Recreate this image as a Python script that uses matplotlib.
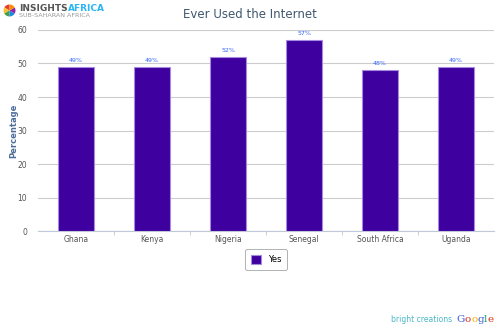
import matplotlib.pyplot as plt
import numpy as np

countries = ['Ghana', 'Kenya', 'Nigeria', 'Senegal', 'South Africa', 'Uganda']
yes_pct = [49, 49, 52, 57, 48, 49]
bar_labels = ['49%', '49%', '52%', '57%', '48%', '49%']

bar_color = '#3f00a0'
edge_color = '#a58be0'

fig = plt.figure(figsize=(5, 3.33), dpi=100)
ax = fig.add_axes([0.076, 0.306, 0.912, 0.604])
renderer = fig.canvas.get_renderer()

x = np.arange(len(countries))
bars = ax.bar(x, yes_pct, width=0.47, color=bar_color, edgecolor=edge_color,
              linewidth=0.8, label='Yes', zorder=3)
for rect, lab in zip(bars, bar_labels):
    ax.text(rect.get_x() + rect.get_width() / 2, rect.get_height() + 1.2, lab,
            ha='center', va='bottom', fontsize=4.5, color='#3366ff')

ax.set_xlim(-0.5, len(countries) - 0.5)
ax.set_ylim(0, 60)
ax.set_yticks(np.arange(0, 61, 10))
ax.yaxis.grid(True, color='#cccccc', linewidth=0.8, zorder=0)
ax.tick_params(axis='y', length=0, labelsize=5.5, labelcolor='#555555', pad=8)
ax.set_xticks(x)
ax.set_xticklabels(countries)
ax.tick_params(axis='x', length=0, labelsize=5.5, labelcolor='#555555', pad=3)
# small separators between categories
ax.set_xticks(np.arange(0.5, len(countries) - 0.5), minor=True)
ax.tick_params(axis='x', which='minor', length=3, color='#c0c8d8')
for side in ['top', 'right', 'left']:
    ax.spines[side].set_visible(False)
ax.spines['bottom'].set_color('#c0c8d8')

fig.text(0.027, 0.608, 'Percentage', rotation=90, ha='center', va='center',
         fontsize=6, fontweight='bold', color='#4d6d9a')
fig.text(0.5, 0.955, 'Ever Used the Internet', ha='center', va='center',
         fontsize=8.5, color='#3e576f')

leg = ax.legend(loc='upper center', bbox_to_anchor=(0.5, -0.07), fontsize=6,
                frameon=True, fancybox=True, edgecolor='#909090', handlelength=1.2,
                handleheight=1.2, borderpad=0.7)
leg.get_frame().set_linewidth(0.6)


def colored_word(x0, y0, parts, **kw):
    # draw consecutive text pieces, each in its own colour
    xpos = x0
    for s, c in parts:
        t = fig.text(xpos, y0, s, color=c, va='center', ha='left', **kw)
        bb = t.get_window_extent(renderer)
        xpos += bb.width / fig.bbox.width


# logo at top left
logo = fig.add_axes([0.004, 0.946, 0.03, 0.045])
logo.pie([1] * 6, colors=['#e53935', '#fbc02d', '#43a047', '#1e88e5', '#8e24aa', '#fb8c00'],
         startangle=90)
logo.set_aspect('equal')
logo.axis('off')
colored_word(0.038, 0.975, [('INSIGHTS', '#555555'), ('AFRICA', '#29b6f6')],
             fontsize=6.5, fontweight='bold')
fig.text(0.038, 0.952, 'SUB-SAHARAN AFRICA', fontsize=4.6, color='#999999',
         va='center', ha='left')

# footer credits
fig.text(0.782, 0.04, 'bright creations', fontsize=5.5, color='#4ab8c8',
         va='center', ha='left')
colored_word(0.913, 0.04, [('G', '#3b5bdb'), ('o', '#d93025'), ('o', '#f4b400'),
                           ('g', '#3b5bdb'), ('l', '#0f9d58'), ('e', '#d93025')],
             fontsize=7.5, family='DejaVu Serif')

fig.savefig('out.png', dpi=100)
